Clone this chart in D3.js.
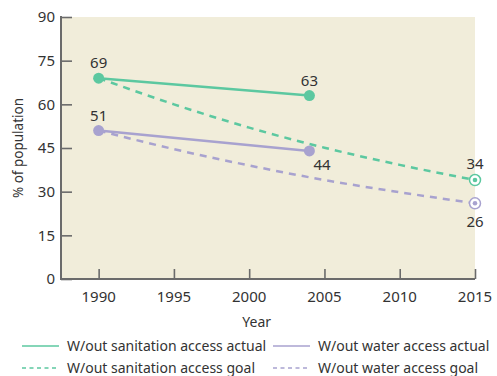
<!DOCTYPE html>
<html>
<head>
<meta charset="utf-8">
<script src="https://cdn.jsdelivr.net/npm/d3@7"></script>
<style>
  html, body { margin: 0; padding: 0; background: #ffffff; }
  svg { display: block; }
  text { font-family: "Noto Sans", "Open Sans", sans-serif; fill: #333333; }
</style>
</head>
<body>
<svg id="chart" width="497" height="376"></svg>
<script>
// Share of population without sanitation / water access, actual vs. goal
const sanitationActualYears = [1990, 2004];
const sanitationActual = [69, 63];
const waterActualYears = [1990, 2004];
const waterActual = [51, 44];
const goalYears = [1990, 1995, 2000, 2005, 2010, 2015];
const sanitationGoal = [69, 60, 52, 45.1, 39.2, 34];
const waterGoal = [51, 44.6, 39, 34, 29.8, 26];
const yTicks = [0, 15, 30, 45, 60, 75, 90];
const xTicks = [1990, 1995, 2000, 2005, 2010, 2015];
const legendLabels = [
  "W/out sanitation access actual",
  "W/out water access actual",
  "W/out sanitation access goal",
  "W/out water access goal"
];

const green = "#5cc8a0";
const purple = "#a8a2cf";

const svg = d3.select("#chart");
const plotLeft = 61, plotRight = 475, plotTop = 17, plotBottom = 279;

const x = d3.scaleLinear().domain([1987.5, 2015]).range([plotLeft, plotRight]);
const y = d3.scaleLinear().domain([0, 90]).range([plotBottom, plotTop]);

// plot background
svg.append("rect")
  .attr("x", plotLeft).attr("y", plotTop)
  .attr("width", plotRight - plotLeft).attr("height", plotBottom - plotTop)
  .attr("fill", "#f1edda");

// axes with inward ticks
const yAxis = svg.append("g")
  .attr("transform", `translate(${plotLeft},0)`)
  .call(d3.axisRight(y).tickValues(yTicks).tickSize(11).tickFormat(""));
const xAxis = svg.append("g")
  .attr("transform", `translate(0,${plotBottom})`)
  .call(d3.axisTop(x).tickValues(xTicks).tickSize(10).tickFormat(""));
[yAxis, xAxis].forEach(g => {
  g.select(".domain").attr("stroke", "#6b6b6b").attr("stroke-width", 2);
  g.selectAll(".tick line").attr("stroke", "#6b6b6b").attr("stroke-width", 1.6);
});
xAxis.select(".domain").attr("d", `M${plotLeft},0H${plotRight}`);
yAxis.select(".domain").attr("d", `M0,${plotBottom + 1}V${plotTop - 1}`);

// tick labels
svg.append("g").selectAll("text").data(yTicks).join("text")
  .attr("x", plotLeft - 6).attr("y", d => y(d)).attr("dy", "0.35em")
  .attr("text-anchor", "end").attr("font-size", 15)
  .text(d => d);
svg.append("g").selectAll("text").data(xTicks).join("text")
  .attr("x", d => x(d)).attr("y", plotBottom + 23)
  .attr("text-anchor", "middle").attr("font-size", 15)
  .text(d => d);

// axis titles
svg.append("text").attr("x", x(2000.5)).attr("y", 327)
  .attr("text-anchor", "middle").attr("font-size", 14).text("Year");
svg.append("text")
  .attr("transform", `translate(23,${(plotTop + plotBottom) / 2}) rotate(-90)`)
  .attr("text-anchor", "middle").attr("font-size", 13.5).text("% of population");

const line = d3.line().x(d => x(d[0])).y(d => y(d[1]));
const curved = d3.line().x(d => x(d[0])).y(d => y(d[1])).curve(d3.curveMonotoneX);

// goal lines (dashed)
svg.append("path").datum(d3.zip(goalYears, sanitationGoal))
  .attr("d", curved).attr("fill", "none").attr("stroke", green)
  .attr("stroke-width", 2.5).attr("stroke-dasharray", "7,6");
svg.append("path").datum(d3.zip(goalYears, waterGoal))
  .attr("d", curved).attr("fill", "none").attr("stroke", purple)
  .attr("stroke-width", 2.5).attr("stroke-dasharray", "7,6");

// actual lines (solid)
svg.append("path").datum(d3.zip(sanitationActualYears, sanitationActual))
  .attr("d", line).attr("fill", "none").attr("stroke", green).attr("stroke-width", 2.5);
svg.append("path").datum(d3.zip(waterActualYears, waterActual))
  .attr("d", line).attr("fill", "none").attr("stroke", purple).attr("stroke-width", 2.5);

// actual markers
svg.append("g").selectAll("circle").data(d3.zip(sanitationActualYears, sanitationActual)).join("circle")
  .attr("cx", d => x(d[0])).attr("cy", d => y(d[1])).attr("r", 5.5).attr("fill", green);
svg.append("g").selectAll("circle").data(d3.zip(waterActualYears, waterActual)).join("circle")
  .attr("cx", d => x(d[0])).attr("cy", d => y(d[1])).attr("r", 5.5).attr("fill", purple);

// goal end markers
[[sanitationGoal, green], [waterGoal, purple]].forEach(([vals, c]) => {
  const yr = goalYears[goalYears.length - 1], v = vals[vals.length - 1];
  svg.append("circle").attr("cx", x(yr)).attr("cy", y(v)).attr("r", 5.5)
    .attr("fill", "#ffffff").attr("stroke", c).attr("stroke-width", 1.5);
  svg.append("circle").attr("cx", x(yr)).attr("cy", y(v)).attr("r", 2.3).attr("fill", c);
});

// value labels
const valueLabels = [
  [sanitationActualYears[0], sanitationActual[0], 0, -10, "middle"],
  [sanitationActualYears[1], sanitationActual[1], 0, -10, "middle"],
  [waterActualYears[0], waterActual[0], 0, -10, "middle"],
  [waterActualYears[1], waterActual[1], 4, 19, "start"],
  [goalYears[5], sanitationGoal[5], 0, -11, "middle"],
  [goalYears[5], waterGoal[5], 0, 24, "middle"]
];
svg.append("g").selectAll("text").data(valueLabels).join("text")
  .attr("x", d => x(d[0]) + d[2]).attr("y", d => y(d[1]) + d[3])
  .attr("text-anchor", d => d[4]).attr("font-size", 15)
  .text(d => Math.round(d[1]));

// legend
const legendItems = [
  { label: legendLabels[0], color: green, dash: null, lx: 22, ly: 346 },
  { label: legendLabels[1], color: purple, dash: null, lx: 273, ly: 346 },
  { label: legendLabels[2], color: green, dash: "4,3.5", lx: 22, ly: 368 },
  { label: legendLabels[3], color: purple, dash: "4,3.5", lx: 273, ly: 368 }
];
const lg = svg.append("g").selectAll("g").data(legendItems).join("g")
  .attr("transform", d => `translate(${d.lx},${d.ly})`);
lg.append("line").attr("x1", 0).attr("x2", 37).attr("y1", 0).attr("y2", 0)
  .attr("stroke", d => d.color).attr("stroke-width", 1.3)
  .attr("stroke-dasharray", d => d.dash);
lg.append("text").attr("x", 45).attr("dy", "0.35em").attr("font-size", 14)
  .text(d => d.label);
</script>
</body>
</html>
